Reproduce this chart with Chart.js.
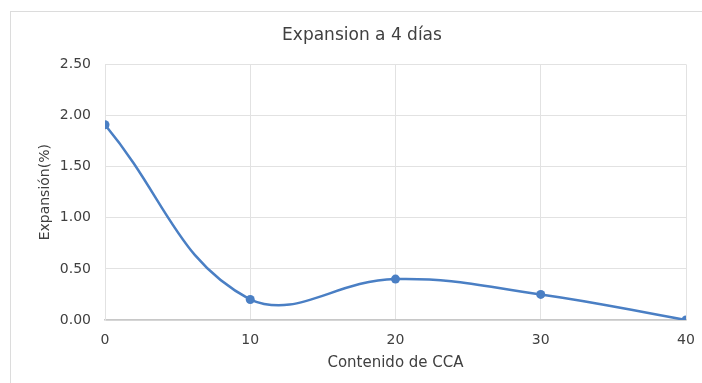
<!DOCTYPE html>
<html>
<head>
<meta charset="utf-8">
<script src="https://cdn.jsdelivr.net/npm/chart.js@4/dist/chart.umd.min.js"></script>
<style>
  html, body { margin: 0; padding: 0; background: #ffffff; }
  #wrap { position: relative; width: 702px; height: 383px; overflow: hidden; }
  #frame { position: absolute; left: 10px; top: 11px; width: 720px; height: 420px;
           border: 1px solid #dcdcdc; box-sizing: border-box; }
  canvas { position: absolute; left: 0; top: 0; }
</style>
</head>
<body>
<div id="wrap">
  <div id="frame"></div>
  <canvas id="chart" width="702" height="383"></canvas>
</div>
<script>
// CCA content (x) and 4-day expansion in percent (y)
const ccaContent = [0, 10, 20, 30, 40];
const expansion = [1.91, 0.20, 0.40, 0.25, 0.00];
const yTicks = [0, 0.5, 1.0, 1.5, 2.0, 2.5];

const chartTitle = 'Expansion a 4 días';
const xTitle = 'Contenido de CCA';
const yTitle = 'Expansión(%)';

const FONT = "'DejaVu Sans', 'Liberation Sans', Arial, sans-serif";
const BLUE = '#4a7fc4';
const TEXT = '#404040';
const GRID = '#e2e2e2';

new Chart(document.getElementById('chart'), {
  type: 'line',
  data: {
    datasets: [{
      data: ccaContent.map((x, i) => ({ x: x, y: expansion[i] })),
      borderColor: BLUE,
      backgroundColor: BLUE,
      borderWidth: 2.5,
      pointRadius: 4.5,
      pointBorderWidth: 0,
      pointBackgroundColor: BLUE,
      tension: 0.42,
      fill: false
    }]
  },
  options: {
    responsive: false,
    animation: false,
    layout: { padding: { left: 38, right: 16, top: 0, bottom: 0 } },
    plugins: {
      legend: { display: false },
      tooltip: { enabled: false },
      title: {
        display: true,
        text: chartTitle,
        color: TEXT,
        font: { family: FONT, size: 17, weight: 'normal' },
        padding: { top: 25, bottom: 19 }
      }
    },
    scales: {
      x: {
        type: 'linear',
        min: 0,
        max: 40,
        afterFit: (s) => { s.height = 63; s.paddingLeft = 0; s.paddingRight = 0; },
        ticks: {
          stepSize: 10,
          padding: 12,
          color: TEXT,
          font: { family: FONT, size: 14 }
        },
        grid: { color: GRID, lineWidth: 1, drawTicks: false },
        border: { color: '#c8c8c8', width: 1.5 },
        title: {
          display: true,
          text: xTitle,
          color: TEXT,
          font: { family: FONT, size: 15 },
          padding: { top: 0, bottom: 11 }
        }
      },
      y: {
        min: 0,
        max: 2.5,
        afterFit: (s) => { s.width = 67; },
        afterBuildTicks: (s) => { s.ticks = yTicks.map(v => ({ value: v })); },
        ticks: {
          padding: 14,
          color: TEXT,
          font: { family: FONT, size: 14 },
          callback: (v) => Number(v).toFixed(2)
        },
        grid: { color: GRID, lineWidth: 1, drawTicks: false },
        border: { color: GRID, width: 1 },
        title: {
          display: true,
          text: yTitle,
          color: TEXT,
          font: { family: FONT, size: 14, lineHeight: 1 },
          padding: { top: 0, bottom: 0 }
        }
      }
    }
  }
});
</script>
</body>
</html>
